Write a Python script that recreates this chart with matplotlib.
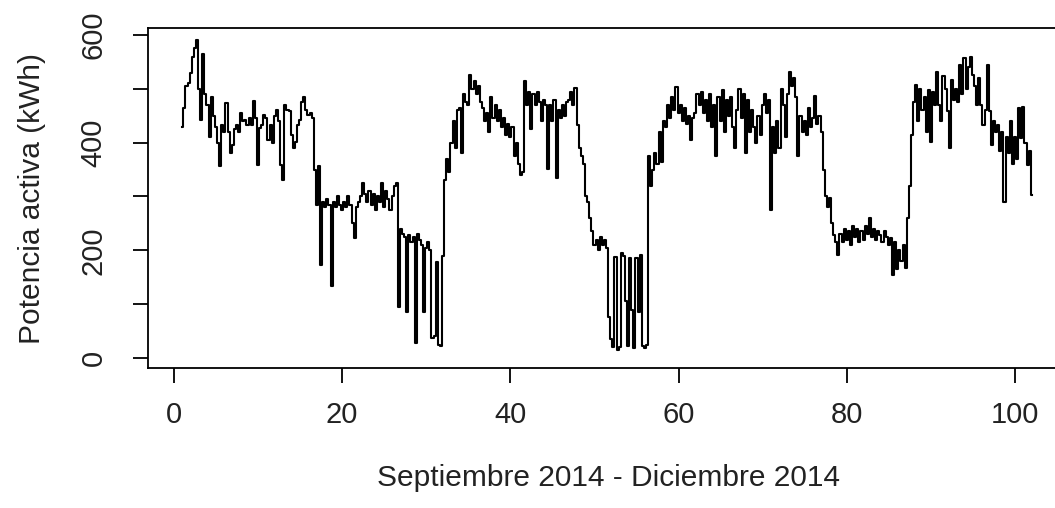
import numpy as np
import matplotlib
matplotlib.use("Agg")
import matplotlib.pyplot as plt

plt.rcParams['font.family'] = ['Liberation Sans', 'DejaVu Sans']

# potencia activa, 4 lecturas por dia (dia 1 .. dia 102)
potencia = [
    430, 465, 505, 510,  530, 560, 575, 590,  500, 442, 565, 490,  470, 410, 485, 450,
    430, 400, 356, 433,  420, 473, 420, 380,  395, 425, 433, 420,  455, 440, 442, 433,
    445, 433, 478, 445,  359, 427, 433, 452,  445, 405, 433, 400,  450, 460, 440, 359,
    331, 470, 460, 458,  415, 390, 402, 433,  442, 476, 485, 461,  452, 455, 445, 350,
    285, 356, 173, 290,  280, 295, 285, 134,  290, 280, 300, 285,  275, 290, 280, 300,
    285, 250, 223, 280,  290, 300, 325, 305,  290, 310, 285, 305,  275, 300, 290, 325,
    280, 310, 295, 275,  300, 320, 325, 95,   240, 230, 225, 86,   228, 215, 225, 28,
    230, 220, 210, 85,   205, 215, 200, 37,   40, 178, 25, 22,    190, 330, 370, 345,
    400, 440, 390, 460,  465, 380, 490, 475,  470, 526, 500, 515,  490, 505, 475, 465,
    440, 455, 420, 485,  445, 470, 440, 460,  430, 445, 415, 435,  410, 430, 375, 400,
    360, 340, 345, 514,  470, 495, 425, 490,  470, 495, 475, 440,  480, 470, 352, 470,
    440, 480, 334, 460,  445, 470, 450, 475,  480, 495, 470, 502,  433, 390, 375, 360,
    300, 290, 260, 235,  210, 220, 200, 225,  210, 220, 205, 76,   35, 20, 188, 15,
    20, 195, 190, 105,   22, 185, 90, 18,    185, 86, 192, 22,    18, 25, 375, 320,
    350, 380, 360, 420,  365, 440, 430, 470,  445, 485, 460, 504,  455, 470, 440, 465,
    435, 450, 405, 445,  455, 490, 470, 495,  455, 480, 440, 490,  430, 470, 375, 485,
    440, 498, 420, 480,  450, 485, 430, 390,  460, 500, 445, 490,  380, 480, 420, 460,
    430, 400, 450, 415,  470, 490, 455, 480,  275, 430, 380, 440,  390, 500, 470, 410,
    490, 532, 505, 520,  485, 375, 450, 420,  440, 415, 464, 430,  445, 486, 435, 450,
    420, 350, 300, 280,  297, 250, 229, 215,  191, 230, 215, 240,  220, 235, 210, 245,
    225, 240, 215, 235,  220, 245, 230, 260,  225, 240, 220, 235,  228, 215, 235, 225,
    210, 222, 154, 215,  165, 200, 180, 210,  167, 260, 320, 415,  476, 507, 440, 500,
    460, 485, 420, 498,  402, 495, 470, 532,  470, 440, 523, 500,  458, 390, 517, 480,
    500, 476, 545, 490,  557, 500, 540, 560,  526, 505, 470, 520,  470, 433, 460, 545,
    458, 396, 440, 420,  433, 384, 420, 290,  410, 380, 440, 360,  410, 370, 464, 408,
    467, 400, 359, 384,  303,
]
dia_inicio = 1
lecturas_por_dia = 4

x_ticks = [0, 20, 40, 60, 80, 100]
y_ticks = [0, 100, 200, 300, 400, 500, 600]
y_tick_labels = ['0', '', '200', '', '400', '', '600']

dias = dia_inicio + np.arange(len(potencia)) / lecturas_por_dia

fig = plt.figure(figsize=(10.55, 5.08), dpi=100)
# el grafico original esta recortado por la derecha
ax = fig.add_axes([148 / 1055, 1 - 368 / 508, 920 / 1055, 340 / 508])

ax.plot(dias, potencia, color='black', lw=1.5, drawstyle='steps-mid')

ax.set_xlim(-3.08, 106.3)
ax.set_ylim(-18.6, 613)
ax.set_xticks(x_ticks)
ax.set_yticks(y_ticks)
ax.set_yticklabels(y_tick_labels, rotation=90, va='center')

for s in ax.spines.values():
    s.set_linewidth(1.3)
ax.tick_params(length=11, width=1.3, labelsize=21, colors='black', labelcolor='#222222')
ax.tick_params(axis='x', pad=13)
ax.tick_params(axis='y', pad=18)

ax.set_xlabel('Septiembre 2014 - Diciembre 2014', fontsize=21.5, color='#222222')
ax.set_ylabel('Potencia activa (kWh)', fontsize=21.5, color='#222222')
ax.xaxis.set_label_coords(0.501, -0.3235)
ax.xaxis.label.set_va('center')
ax.yaxis.set_label_coords(-0.126, 0.5)
ax.yaxis.label.set_va('center')

fig.savefig('out.png', dpi=100)
